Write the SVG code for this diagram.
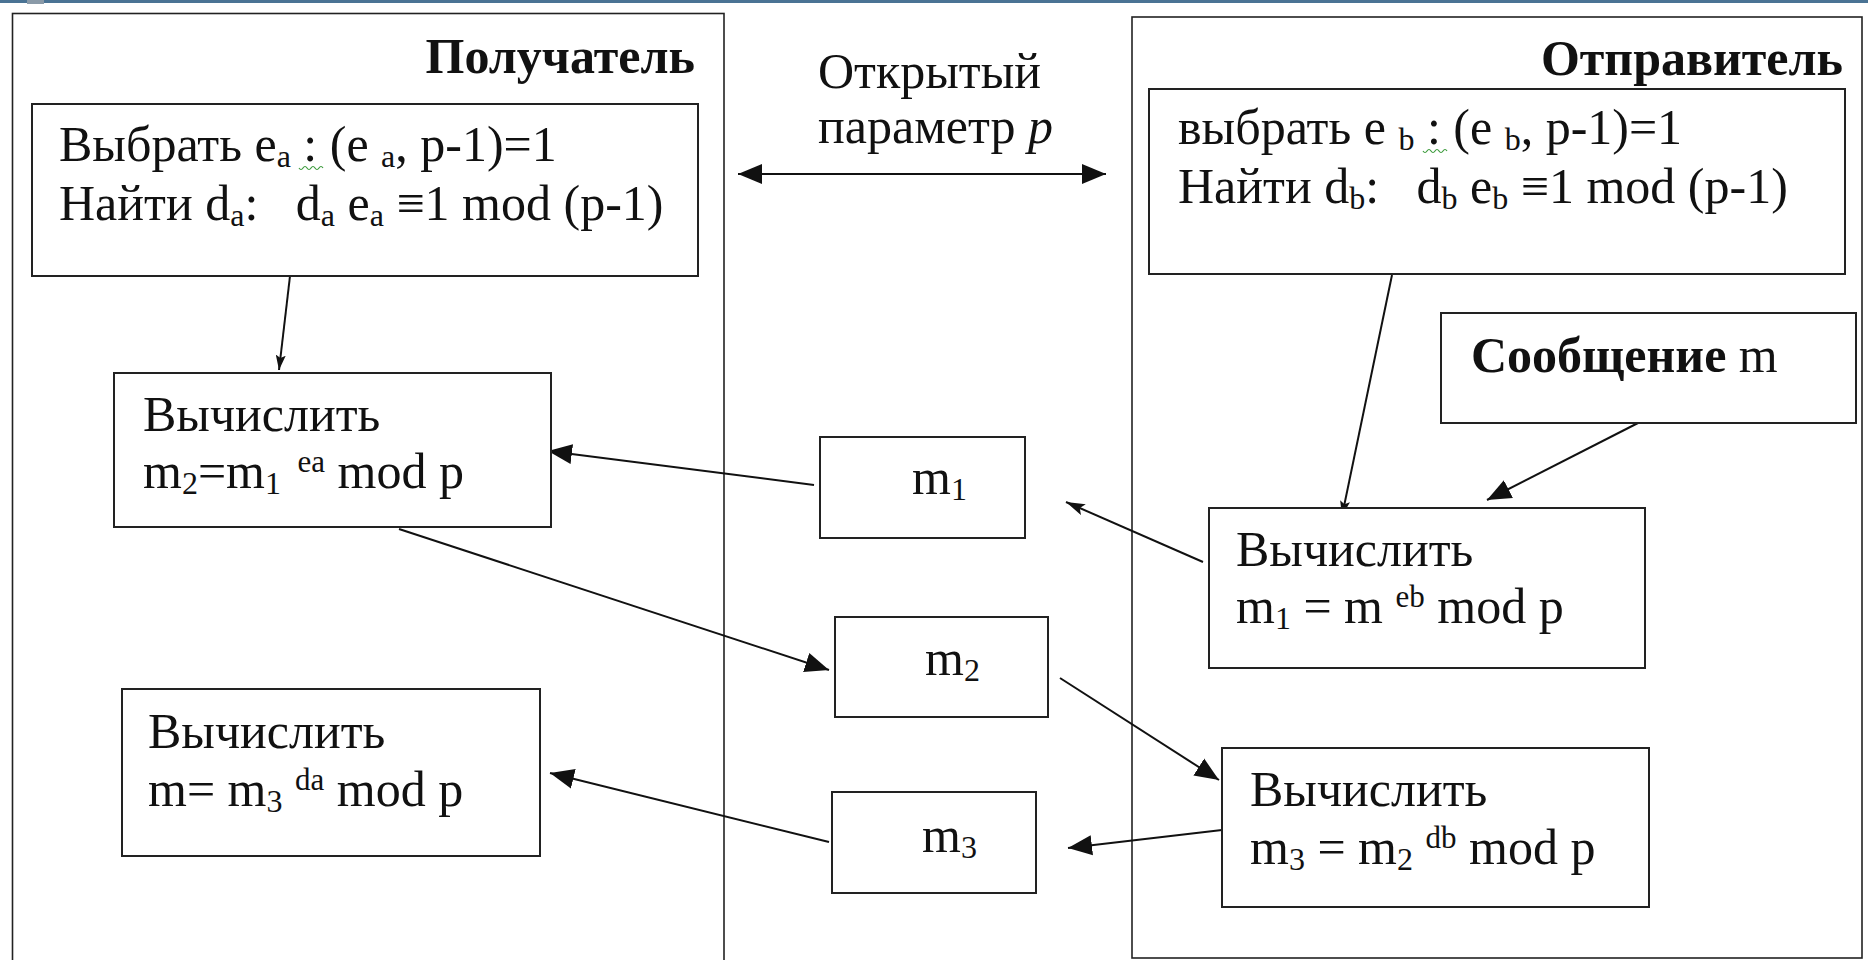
<svg xmlns="http://www.w3.org/2000/svg" width="1868" height="960" viewBox="0 0 1868 960">
<style>
text{font-family:"Liberation Serif","DejaVu Serif","Times New Roman",serif;font-size:50px;fill:#111;white-space:pre}
.t{font-weight:bold}
.sub{font-size:32px}
.sup{font-size:31px}
.big{fill:none;stroke:#222;stroke-width:1.6}
.box{fill:#fff;stroke:#222;stroke-width:2}
.c{stroke:#111;stroke-width:2;fill:none}
.sq{fill:none;stroke:#3a9a3a;stroke-width:1.2}
</style>
<defs>
<marker id="ah" markerUnits="userSpaceOnUse" markerWidth="26" markerHeight="22" refX="24" refY="11" orient="auto-start-reverse"><path d="M0,1 L24,11 L0,21 z" fill="#111"/></marker>
<marker id="ahm" markerUnits="userSpaceOnUse" markerWidth="20" markerHeight="12" refX="19" refY="6" orient="auto"><path d="M0,0 L19,6 L0,12 L4,6 z" fill="#111"/></marker>
<marker id="ahs" markerUnits="userSpaceOnUse" markerWidth="16" markerHeight="10" refX="15" refY="5" orient="auto"><path d="M0,0 L15,5 L0,10 L3,5 z" fill="#111"/></marker>
</defs>
<rect width="1868" height="960" fill="#fff"/>
<line x1="0" y1="1.5" x2="1868" y2="1.5" stroke="#4a7394" stroke-width="3"/>
<rect x="27" y="0" width="17" height="4" fill="#8a9aa8"/>

<g id="receiver">
<rect class="big" x="12.5" y="13.5" width="711.5" height="965"/>
<text class="t" x="695" y="73" text-anchor="end">Получатель</text>
</g>
<g id="sender">
<rect class="big" x="1132" y="17" width="730" height="941"/>
<text class="t" x="1843" y="75" text-anchor="end">Отправитель</text>
</g>
<g id="open-param">
<text x="818" y="88">Открытый</text>
<text x="818" y="143">параметр <tspan font-style="italic">p</tspan></text>
</g>

<g id="connectors">
<line class="c" x1="738" y1="174" x2="1106" y2="174" marker-start="url(#ah)" marker-end="url(#ah)"/>
<line class="c" x1="290" y1="276" x2="279" y2="370" marker-end="url(#ahs)"/>
<line class="c" x1="1392" y1="275" x2="1342" y2="516" marker-end="url(#ahs)"/>
<line class="c" x1="1638" y1="423" x2="1487" y2="500" marker-end="url(#ah)"/>
<line class="c" x1="1203" y1="562" x2="1066" y2="502" marker-end="url(#ahm)"/>
<line class="c" x1="814" y1="485" x2="548" y2="451" marker-end="url(#ah)"/>
<line class="c" x1="399" y1="529" x2="829" y2="670" marker-end="url(#ah)"/>
<line class="c" x1="1060" y1="678" x2="1219" y2="780" marker-end="url(#ah)"/>
<line class="c" x1="1222" y1="830" x2="1068" y2="848" marker-end="url(#ah)"/>
<line class="c" x1="829" y1="842" x2="550" y2="773" marker-end="url(#ah)"/>
</g>

<g id="boxA">
<rect class="box" x="32" y="104" width="666" height="172"/>
<text x="59" y="161">Выбрать e<tspan class="sub" baseline-shift="-6">a</tspan> : (e <tspan class="sub" baseline-shift="-6">a</tspan>, p-1)=1</text>
<text x="59" y="220">Найти d<tspan class="sub" baseline-shift="-6">a</tspan>:   d<tspan class="sub" baseline-shift="-6">a</tspan> e<tspan class="sub" baseline-shift="-6">a</tspan> ≡1 mod (p-1)</text>
<path class="sq" d="M299,168 q2,3 4,0 t4,0 t4,0 t4,0 t4,0 t4,0"/>
</g>

<g id="boxB">
<rect class="box" x="1149" y="89" width="696" height="185"/>
<text x="1178" y="144">выбрать e <tspan class="sub" baseline-shift="-6">b</tspan> : (e <tspan class="sub" baseline-shift="-6">b</tspan>, p-1)=1</text>
<text x="1178" y="203">Найти d<tspan class="sub" baseline-shift="-6">b</tspan>:   d<tspan class="sub" baseline-shift="-6">b</tspan> e<tspan class="sub" baseline-shift="-6">b</tspan> ≡1 mod (p-1)</text>
<path class="sq" d="M1423,151 q2,3 4,0 t4,0 t4,0 t4,0 t4,0 t4,0"/>
</g>

<g id="box-m2calc">
<rect class="box" x="114" y="373" width="437" height="154"/>
<text x="143" y="431">Вычислить</text>
<text x="143" y="488">m<tspan class="sub" baseline-shift="-6">2</tspan>=m<tspan class="sub" baseline-shift="-6">1</tspan> <tspan class="sup" baseline-shift="16" dx="4">ea</tspan> mod p</text>
</g>

<g id="box-m1">
<rect class="box" x="820" y="437" width="205" height="101"/>
<text x="912" y="494">m<tspan class="sub" baseline-shift="-6">1</tspan></text>
</g>

<g id="box-m2">
<rect class="box" x="835" y="617" width="213" height="100"/>
<text x="925" y="675">m<tspan class="sub" baseline-shift="-6">2</tspan></text>
</g>

<g id="box-m3">
<rect class="box" x="832" y="792" width="204" height="101"/>
<text x="922" y="852">m<tspan class="sub" baseline-shift="-6">3</tspan></text>
</g>

<g id="box-mcalc">
<rect class="box" x="122" y="689" width="418" height="167"/>
<text x="148" y="748">Вычислить</text>
<text x="148" y="806">m= m<tspan class="sub" baseline-shift="-6">3</tspan> <tspan class="sup" baseline-shift="16">da</tspan> mod p</text>
</g>

<g id="box-message">
<rect class="box" x="1441" y="313" width="415" height="110"/>
<text x="1471" y="372"><tspan class="t">Сообщение</tspan> m</text>
</g>

<g id="box-m1calc">
<rect class="box" x="1209" y="508" width="436" height="160"/>
<text x="1236" y="566">Вычислить</text>
<text x="1236" y="623">m<tspan class="sub" baseline-shift="-6">1</tspan> = m <tspan class="sup" baseline-shift="16">eb</tspan> mod p</text>
</g>

<g id="box-m3calc">
<rect class="box" x="1222" y="748" width="427" height="159"/>
<text x="1250" y="806">Вычислить</text>
<text x="1250" y="864">m<tspan class="sub" baseline-shift="-6">3</tspan> = m<tspan class="sub" baseline-shift="-6">2</tspan> <tspan class="sup" baseline-shift="16">db</tspan> mod p</text>
</g>
</svg>
